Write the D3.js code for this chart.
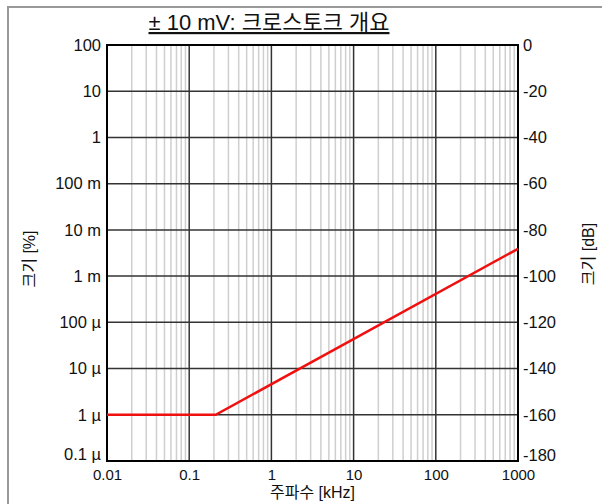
<!DOCTYPE html>
<html>
<head>
<meta charset="utf-8">
<script src="https://cdn.jsdelivr.net/npm/d3@7"></script>
<style>
  body { margin: 0; background: #fff; }
  text { font-family: "Liberation Sans", Arial, "Noto Sans CJK KR", sans-serif; fill: #111; }
</style>
</head>
<body>
<div class="js-chart"></div>
<script>
// chart data
var title = "± 10 mV: 크로스토크 개요";
var xLabel = "주파수 [kHz]";
var yLabelLeft = "크기 [%]";
var yLabelRight = "크기 [dB]";

var xTicks = [0.01, 0.1, 1, 10, 100, 1000];
var xTickLabels = ["0.01", "0.1", "1", "10", "100", "1000"];
var yTicks = [100, 10, 1, 1e-1, 1e-2, 1e-3, 1e-4, 1e-5, 1e-6, 1e-7];
var yTickLabels = ["100", "10", "1", "100 m", "10 m", "1 m", "100 µ", "10 µ", "1 µ", "0.1 µ"];
var dbTicks = [0, -20, -40, -60, -80, -100, -120, -140, -160, -180];

// crosstalk curve, frequency in kHz / magnitude in %
var freq = [0.01, 0.21, 1000];
var magnitude = [1e-6, 1e-6, 3.9e-3];

var W = 602, H = 504;
var margin = {top: 45, right: 84, bottom: 43, left: 107};
var width = W - margin.left - margin.right;
var height = H - margin.top - margin.bottom;

var svg = d3.select(".js-chart").append("svg")
  .attr("width", W)
  .attr("height", H);

// outer frame (only left/top visible)
svg.append("rect")
  .attr("x", 8).attr("y", 7)
  .attr("width", W + 20).attr("height", H + 20)
  .attr("fill", "none")
  .attr("stroke", "#999")
  .attr("stroke-width", 2);

var x = d3.scaleLog().domain([0.01, 1000]).range([0, width]);
var y = d3.scaleLog().domain([1e-7, 100]).range([height, 0]);
var yDb = d3.scaleLinear().domain([-180, 0]).range([height, 0]);

var g = svg.append("g").attr("transform", "translate(" + margin.left + "," + margin.top + ")");

// minor vertical grid
var minor = [];
for (var d = 0; d < 5; d++) {
  for (var k = 2; k <= 9; k++) minor.push(k * Math.pow(10, d - 2));
}
g.selectAll(".minor").data(minor).enter().append("line")
  .attr("x1", function(d) { return x(d); })
  .attr("x2", function(d) { return x(d); })
  .attr("y1", 0).attr("y2", height)
  .attr("stroke", "#cfcfcf")
  .attr("stroke-width", 1.5);

// major grid
g.selectAll(".vmajor").data(xTicks.slice(1, -1)).enter().append("line")
  .attr("x1", function(d) { return x(d); })
  .attr("x2", function(d) { return x(d); })
  .attr("y1", 0).attr("y2", height)
  .attr("stroke", "#333")
  .attr("stroke-width", 1.5);

g.selectAll(".hmajor").data(yTicks.slice(1, -1)).enter().append("line")
  .attr("x1", 0).attr("x2", width)
  .attr("y1", function(d) { return y(d); })
  .attr("y2", function(d) { return y(d); })
  .attr("stroke", "#333")
  .attr("stroke-width", 1.5);

// axes
var xAxis = d3.axisBottom(x).tickValues(xTicks).tickSize(0).tickPadding(8)
  .tickFormat(function(d, i) { return xTickLabels[i]; });
var yAxis = d3.axisLeft(y).tickValues(yTicks).tickSize(0).tickPadding(6)
  .tickFormat(function(d, i) { return yTickLabels[i]; });
var yAxisR = d3.axisRight(yDb).tickValues(dbTicks).tickSize(0).tickPadding(5)
  .tickFormat(function(d) { return d === 0 ? "0" : "-" + Math.abs(d); });

var ax = g.append("g").attr("transform", "translate(0," + height + ")").call(xAxis);
var ayl = g.append("g").call(yAxis);
var ayr = g.append("g").attr("transform", "translate(" + width + ",0)").call(yAxisR);
[ax, ayl, ayr].forEach(function(a) {
  a.select(".domain").remove();
  a.selectAll("text").attr("fill", "#111")
    .attr("font-family", "Liberation Sans, Arial, sans-serif");
});
ax.selectAll("text").attr("font-size", 15);
ayl.selectAll("text").attr("font-size", 16.5);
ayr.selectAll("text").attr("font-size", 16.5);
// lift the bottom labels so they clear the x labels
ayl.selectAll(".tick").filter(function(d) { return d === 1e-7; }).select("text").attr("dy", "-0.1em");
ayr.selectAll(".tick").filter(function(d) { return d === -180; }).select("text").attr("dy", "-0.05em");

// plot border
g.append("rect")
  .attr("width", width).attr("height", height)
  .attr("fill", "none")
  .attr("stroke", "#000")
  .attr("stroke-width", 2);

// data line
var pts = freq.map(function(f, i) { return [f, magnitude[i]]; });
g.append("path")
  .datum(pts)
  .attr("fill", "none")
  .attr("stroke", "#f01010")
  .attr("stroke-width", 2.5)
  .attr("d", d3.line().x(function(d) { return x(d[0]); }).y(function(d) { return y(d[1]); }));

// title
svg.append("text")
  .attr("x", 269)
  .attr("y", 30)
  .attr("text-anchor", "middle")
  .attr("font-size", 22)
  .attr("text-decoration", "underline")
  .text(title);

// axis titles
svg.append("text")
  .attr("x", margin.left + width / 2)
  .attr("y", 498)
  .attr("text-anchor", "middle")
  .attr("font-size", 16)
  .text(xLabel);

svg.append("text")
  .attr("transform", "translate(35,259) rotate(-90)")
  .attr("text-anchor", "middle")
  .attr("font-size", 16)
  .text(yLabelLeft);

svg.append("text")
  .attr("transform", "translate(594,254) rotate(-90)")
  .attr("text-anchor", "middle")
  .attr("font-size", 16)
  .text(yLabelRight);
</script>
</body>
</html>
